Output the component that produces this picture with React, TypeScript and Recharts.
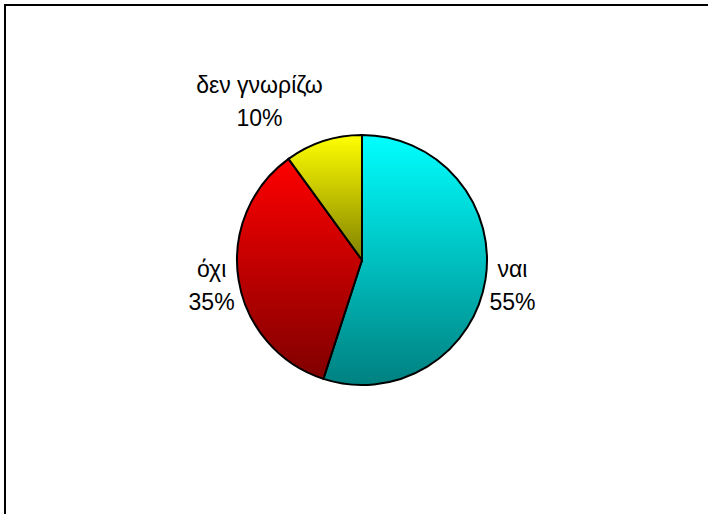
import React from "react";
import { PieChart, Pie, Cell } from "recharts";

const categories = ["ναι", "όχι", "δεν γνωρίζω"];
const values = [55, 35, 10];
const gradTop = ["#00FFFF", "#FF0000", "#FFFF00"];
const gradBottom = ["#008080", "#800000", "#808000"];

const data = categories.map((name, i) => ({ name, value: values[i] }));
const total = values.reduce((a, b) => a + b, 0);

const FONT = "'Liberation Sans', Arial, sans-serif";
const FS = 23;
const LINE = 33;

let ctx: CanvasRenderingContext2D | null = null;
function measure(s: string): number {
  if (!ctx) {
    const c = document.createElement("canvas");
    ctx = c.getContext("2d");
  }
  if (!ctx) return s.length * FS * 0.55;
  ctx.font = `${FS}px ${FONT}`;
  return ctx.measureText(s).width;
}

const clamp = (v: number) => Math.max(-1, Math.min(1, v));

const renderLabel = (props: any) => {
  const { cx, cy, midAngle, outerRadius, name, value } = props;
  const RAD = Math.PI / 180;
  const c = Math.cos(-midAngle * RAD);
  const s = Math.sin(-midAngle * RAD);
  const r = outerRadius + 4;
  const ax = cx + r * c;
  const ay = cy + r * s;
  const pct = `${Math.round((value / total) * 100)}%`;
  const w = Math.max(measure(name), measure(pct));
  const h = 62;
  const bx = ax + clamp(c * 3.2) * (w / 2);
  const by = ay + clamp(s * 2.2) * (h / 2) + 3;
  return (
    <text
      x={bx}
      y={by - LINE / 2}
      textAnchor="middle"
      fill="#000"
      fontFamily={FONT}
      fontSize={FS}
    >
      <tspan x={bx} y={by - LINE / 2}>{name}</tspan>
      <tspan x={bx} y={by + LINE / 2}>{pct}</tspan>
    </text>
  );
};

export default function App() {
  return (
    <div
      style={{
        position: "absolute",
        left: 0,
        top: 0,
        width: 708,
        height: 514,
        overflow: "hidden",
        background: "#fff",
      }}
    >
      <div
        style={{
          position: "absolute",
          left: 4,
          top: 4,
          width: 720,
          height: 530,
          borderTop: "2px solid #000",
          borderLeft: "2px solid #000",
        }}
      />
      <div style={{ position: "absolute", left: 0, top: 0 }}>
        <PieChart width={708} height={514} margin={{ top: 0, right: 0, bottom: 0, left: 0 }}>
          <defs>
            {gradTop.map((col, i) => (
              <linearGradient key={i} id={`g${i}`} x1="0" y1="0" x2="0" y2="1">
                <stop offset="0%" stopColor={col} />
                <stop offset="100%" stopColor={gradBottom[i]} />
              </linearGradient>
            ))}
          </defs>
          <Pie
            data={data}
            dataKey="value"
            nameKey="name"
            cx={362}
            cy={260}
            outerRadius={125}
            startAngle={90}
            endAngle={-270}
            stroke="#000"
            strokeWidth={2}
            label={renderLabel}
            labelLine={false}
            isAnimationActive={false}
          >
            {data.map((d, i) => (
              <Cell key={d.name} fill={`url(#g${i})`} />
            ))}
          </Pie>
        </PieChart>
      </div>
    </div>
  );
}
